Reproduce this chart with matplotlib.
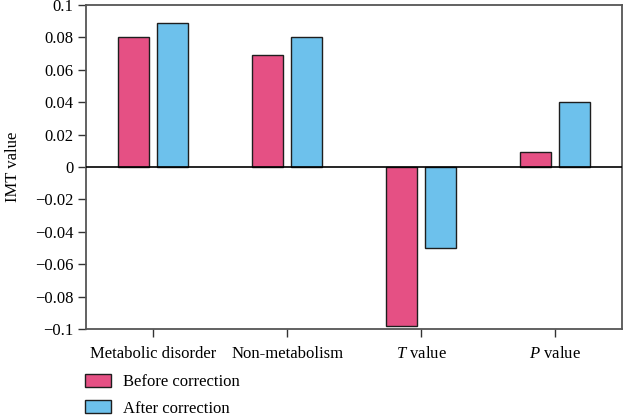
import matplotlib
matplotlib.use("Agg")
import matplotlib.pyplot as plt
from matplotlib.patches import Patch
from matplotlib.ticker import FuncFormatter
import numpy as np

# data
categories = ["Metabolic disorder", "Non-metabolism", "$\\mathit{T}$ value", "$\\mathit{P}$ value"]
before = [0.080, 0.069, -0.098, 0.009]
after = [0.089, 0.080, -0.050, 0.040]
yticks = [-0.1, -0.08, -0.06, -0.04, -0.02, 0, 0.02, 0.04, 0.06, 0.08, 0.1]

PINK = "#E55084"
BLUE = "#6DC1EC"
EDGE = "#1e1e1e"

plt.rcParams['font.family'] = ['Liberation Serif', 'DejaVu Serif']
plt.rcParams['mathtext.fontset'] = 'custom'
plt.rcParams['mathtext.it'] = 'Liberation Serif:italic'
plt.rcParams['font.size'] = 12


def fmt(v, pos):
    if abs(v) < 1e-9:
        return "0"
    s = ("%.2f" % v).rstrip("0")
    return s.replace("-", "\u2212")


fig = plt.figure(figsize=(6.24, 4.17), dpi=100)
ax = fig.add_axes([0.138, 0.211, 0.859, 0.777])

x = np.arange(len(categories))
w = 0.23
ax.bar(x - 0.145, before, w, color=PINK, edgecolor=EDGE, linewidth=1.0, zorder=3)
ax.bar(x + 0.145, after, w, color=BLUE, edgecolor=EDGE, linewidth=1.0, zorder=3)
ax.axhline(0, color="black", linewidth=1.2, zorder=4)

ax.set_xlim(-0.5, 3.5)
ax.set_ylim(-0.1, 0.1)
ax.set_yticks(yticks)
ax.yaxis.set_major_formatter(FuncFormatter(fmt))
ax.set_xticks(x)
ax.set_xticklabels(categories)
ax.tick_params(direction="out", length=6, width=1, color="#333333", pad=3)
ax.tick_params(axis="x", pad=6)
for s in ax.spines.values():
    s.set_color("#555555")
    s.set_linewidth(1.3)
ax.set_ylabel("IMT value", labelpad=10)

handles = [Patch(facecolor=PINK, edgecolor=EDGE, label="Before correction"),
           Patch(facecolor=BLUE, edgecolor=EDGE, label="After correction")]
fig.legend(handles=handles, loc="lower left", bbox_to_anchor=(0.112, -0.035),
           frameon=False, handlelength=1.55, handleheight=0.8,
           labelspacing=0.6, handletextpad=0.75)

fig.savefig("out.png", dpi=100)
